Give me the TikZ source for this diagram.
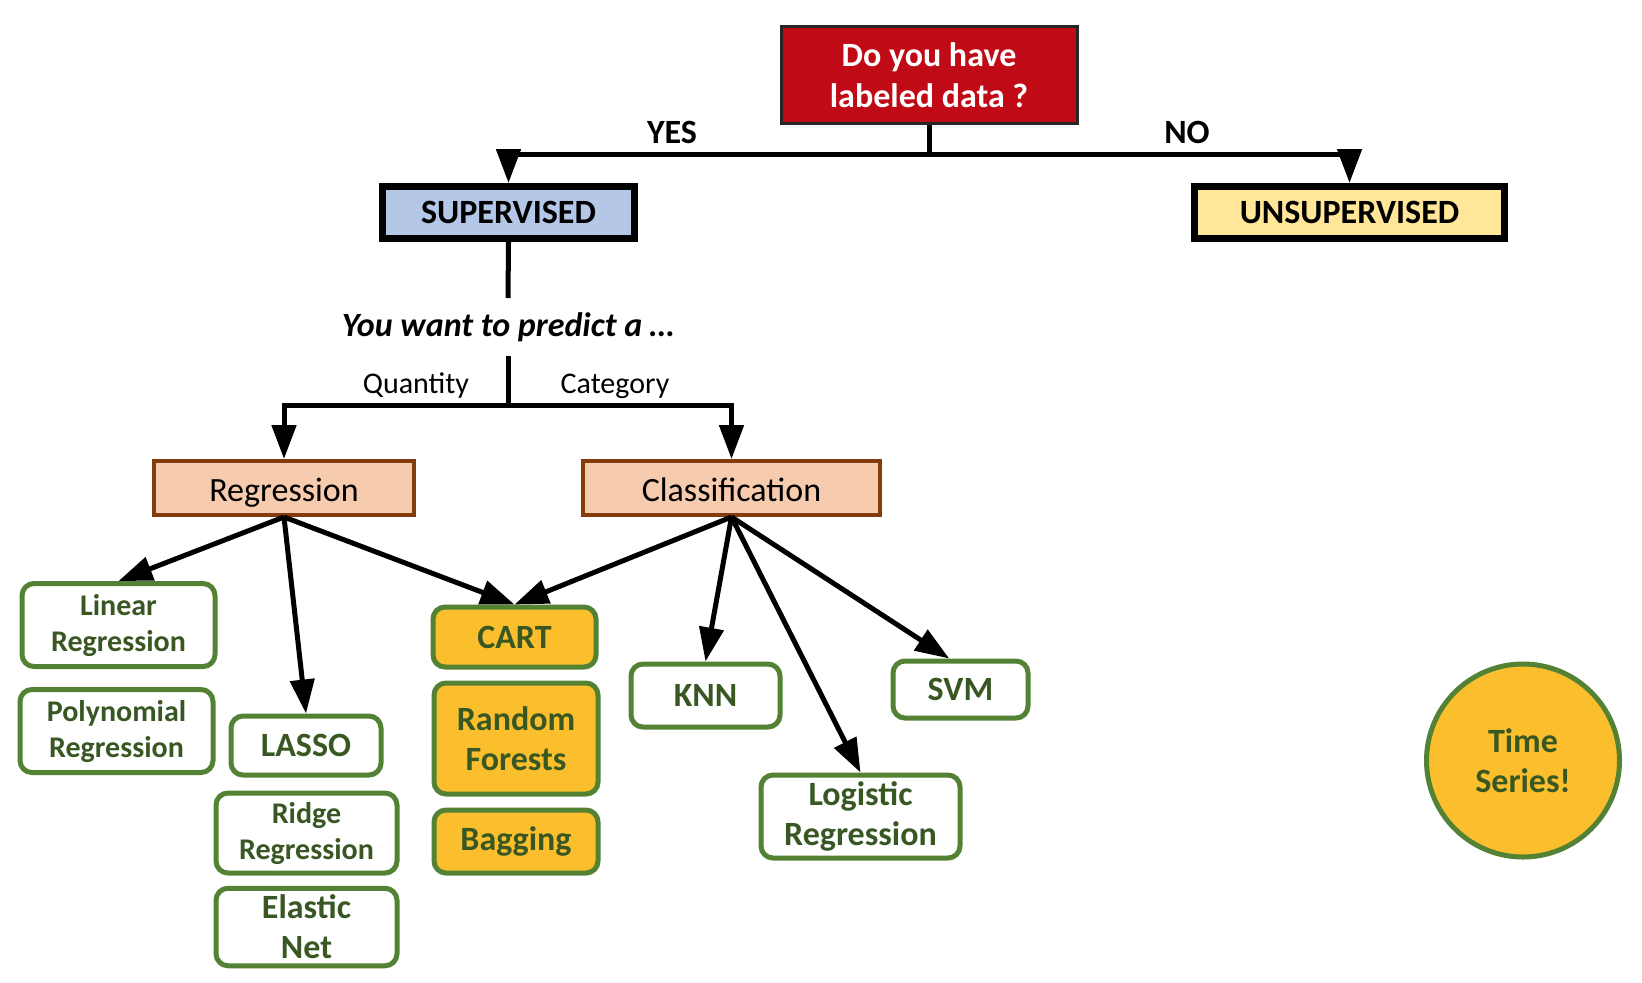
\documentclass[tikz,border=0pt]{standalone}
\usepackage{fontspec}
\setmainfont{Carlito}
\usetikzlibrary{arrows.meta}
\definecolor{qred}{HTML}{C00A16}
\definecolor{supblue}{HTML}{B4C7E7}
\definecolor{unsupyellow}{HTML}{FFE699}
\definecolor{taskfill}{HTML}{F6CBAE}
\definecolor{taskline}{HTML}{843C0C}
\definecolor{algoline}{HTML}{548235}
\definecolor{algotext}{HTML}{385723}
\definecolor{ensfill}{HTML}{FBBF2D}
\tikzset{
  question/.style={draw=black!85, line width=1.5pt, fill=qred, text=white, align=center,
    font=\bfseries\fontsize{17}{20.5}\selectfont, minimum width=148pt, minimum height=48.5pt},
  kind/.style={draw, line width=3.5pt, font=\bfseries\fontsize{17}{20}\selectfont, minimum height=26pt},
  task/.style={draw=taskline, fill=taskfill, line width=2pt, font=\fontsize{17}{20}\selectfont,
    minimum height=27pt, text height=13pt, text depth=0pt},
  algo/.style={draw=algoline, fill=white, line width=2.5pt, rounded corners=6pt, text=algotext, align=center,
    font=\bfseries\fontsize{17}{20}\selectfont},
  smalltext/.style={font=\bfseries\fontsize{15}{18}\selectfont},
  ensemble/.style={algo, fill=ensfill},
  link/.style={line width=2.5pt},
  arr/.style={link, -{Triangle[length=17pt,width=12pt]}},
  lbl/.style={font=\bfseries\fontsize{17}{20}\selectfont},
}
\begin{document}
\begin{tikzpicture}[x=0.5pt,y=-0.5pt]
  \useasboundingbox (0,0) rectangle (1642,982);
  % question and the two kinds of learning
  \node[question] (q) at (929,75) {Do you have\\labeled data ?};
  \node[kind, fill=supblue, minimum width=126pt] (sup) at (508.5,212.5) {SUPERVISED};
  \node[kind, fill=unsupyellow, minimum width=155pt] (unsup) at (1349.5,212.5) {UNSUPERVISED};
  \coordinate (qj) at (929,154);
  \draw[link] (q.south) -- (qj);
  \draw[arr] (qj) -| (sup.north);
  \draw[arr] (qj) -| (unsup.north);
  \node[lbl] (yes) at (672,132) {YES};
  \node[lbl] (no) at (1187,132) {NO};
  % what to predict
  \node[font=\bfseries\itshape\fontsize{17}{20}\selectfont, inner ysep=7pt] (ask) at (508,327) {You want to predict a \dots};
  \draw[link] (sup.south) -- (ask.north);
  \coordinate (pj) at (508,405);
  \draw[link] (ask.south) -- (pj);
  \node[task, minimum width=130pt] (reg) at (284,488) {Regression};
  \node[task, minimum width=148.5pt] (cls) at (731.5,488) {Classification};
  \draw[arr] (pj) -| (reg.north);
  \draw[arr] (pj) -| (cls.north);
  \node[font=\fontsize{15}{18}\selectfont] (quant) at (416,386) {Quantity};
  \node[font=\fontsize{15}{18}\selectfont] (cat) at (615,386) {Category};
  % algorithms
  \node[algo, smalltext, minimum width=96.5pt, minimum height=41.5pt] (lin) at (118.5,625) {Linear\\Regression};
  \node[algo, smalltext, minimum width=96.5pt, minimum height=41.5pt] (poly) at (116.5,731) {Polynomial\\Regression};
  \node[algo, minimum width=75pt, minimum height=29.5pt] (lasso) at (306,745.5) {LASSO};
  \node[algo, smalltext, minimum width=90.5pt, minimum height=40pt] (ridge) at (306.5,833) {Ridge\\Regression};
  \node[algo, minimum width=90.5pt, minimum height=37.5pt] (enet) at (306.5,927) {Elastic\\Net};
  \node[ensemble, minimum width=81.5pt, minimum height=30pt] (cart) at (514.5,637) {CART};
  \node[ensemble, minimum width=82pt, minimum height=55.5pt] (rf) at (516,738.5) {Random\\Forests};
  \node[ensemble, minimum width=82pt, minimum height=31.5pt] (bag) at (516,841.5) {Bagging};
  \node[algo, minimum width=74.5pt, minimum height=31.5pt] (knn) at (705.5,695.5) {KNN};
  \node[algo, minimum width=67.5pt, minimum height=28.5pt] (svm) at (960.5,689.5) {SVM};
  \node[algo, minimum width=99.5pt, minimum height=41.5pt] (logit) at (860.5,816.5) {Logistic\\Regression};
  \node[algo, fill=ensfill, circle, minimum size=96.5pt, inner sep=0pt] (ts) at (1523,760.5) {Time\\Series!};
  \draw[arr] (reg.south) -- (lin.north);
  \draw[arr] (reg.south) -- (lasso.north);
  \draw[arr] (reg.south) -- (cart.north);
  \draw[arr] (cls.south) -- (cart.north);
  \draw[arr] (cls.south) -- (knn.north);
  \draw[arr] (cls.south) -- (logit.north);
  \draw[arr] (cls.south) -- (svm.110);
\end{tikzpicture}
\end{document}
